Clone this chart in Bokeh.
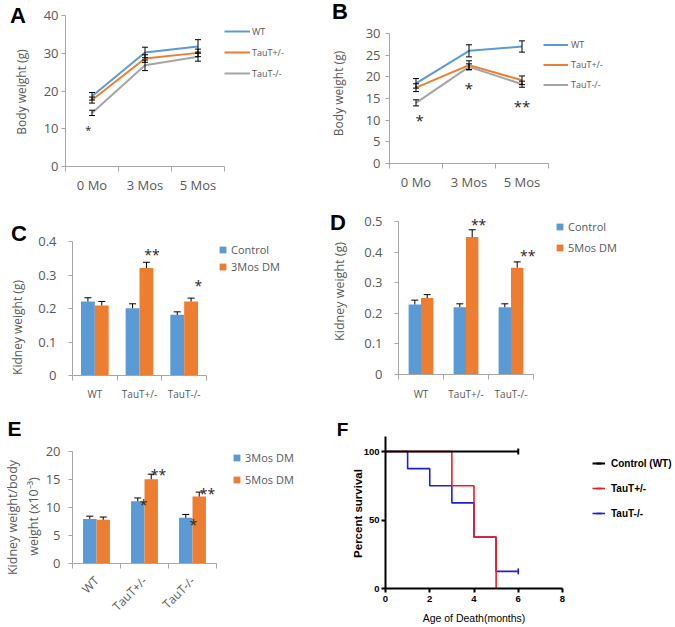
import math
from bokeh.plotting import figure
from bokeh.layouts import column, row
from bokeh.models import (Range1d, FixedTicker, Legend, LegendItem, Label,
                          Whisker, TeeHead, ColumnDataSource)
from bokeh.core.properties import value
from bokeh.embed import file_html
from bokeh.resources import INLINE

# ---------------- data ----------------
months = ["0 Mo", "3 Mos", "5 Mos"]
genotypes = ["WT", "TauT+/-", "TauT-/-"]

# A: body weight (g)
a_wt = [18.6, 30.2, 31.8]
a_wt_err = [1.0, 1.4, 1.8]
a_het = [17.6, 28.6, 30.1]
a_het_err = [0.8, 1.0, 1.0]
a_ko = [14.2, 26.8, 29.1]
a_ko_err = [0.7, 1.4, 1.2]
a_star_cat = [0]
a_star_shift = [-0.07]
a_star_y = [10.3]
a_star_text = ["*"]

# B: body weight (g)
b_wt = [18.5, 26.0, 27.0]
b_wt_err = [1.1, 1.4, 1.3]
b_het = [17.5, 22.7, 19.2]
b_het_err = [0.9, 1.0, 1.0]
b_ko = [14.0, 22.3, 18.3]
b_ko_err = [0.7, 0.7, 0.7]
b_star_cat = [0, 1, 2]
b_star_shift = [0.07, 0.0, 0.0]
b_star_y = [10.4, 18.0, 13.8]
b_star_text = ["*", "*", "**"]

# C: kidney weight (g), 3 months
c_control = [0.221, 0.201, 0.181]
c_control_err = [0.011, 0.013, 0.009]
c_dm = [0.209, 0.321, 0.221]
c_dm_err = [0.012, 0.017, 0.010]
c_star_cat = [1, 2]
c_star_shift = [0.28, 0.32]
c_star_y = [0.367, 0.275]
c_star_text = ["**", "*"]

# D: kidney weight (g), 5 months
d_control = [0.229, 0.220, 0.220]
d_control_err = [0.014, 0.011, 0.011]
d_dm = [0.250, 0.449, 0.349]
d_dm_err = [0.011, 0.024, 0.019]
d_star_cat = [1, 2]
d_star_shift = [0.28, 0.37]
d_star_y = [0.497, 0.395]
d_star_text = ["**", "**"]

# E: kidney weight / body weight (x10^-3)
e_dm3 = [7.95, 11.1, 8.15]
e_dm3_err = [0.5, 0.6, 0.6]
e_dm5 = [7.8, 15.05, 11.95]
e_dm5_err = [0.5, 0.9, 0.8]
e_star_cat = [1, 1, 2, 2]
e_star_shift = [-0.02, 0.29, 0.02, 0.31]
e_star_y = [10.9, 16.25, 7.3, 12.9]
e_star_text = ["*", "**", "*", "**"]

# F: survival (step curves)
f_ctrl_t = [0, 6]
f_ctrl_s = [100, 100]
f_het_t = [0, 3, 4, 5]
f_het_s = [100, 75, 37.5, 0]
f_ko_t = [0, 1, 2, 3, 4, 5, 6]
f_ko_s = [100, 87.5, 75, 62.5, 37.5, 12.5, 12.5]
f_ctrl_cens_t = [6]
f_ctrl_cens_s = [100]
f_ko_cens_t = [6]
f_ko_cens_s = [12.5]

# ---------------- style ----------------
EX_FONT = "Open Sans"
GP_FONT = "Liberation Sans"
TXT = "#595959"
AXC = "#A6A6A6"
BLUE = "#5B9BD5"
ORANGE = "#ED7D31"
GRAY = "#A5A5A5"
STAR = "#262626"


def lin(p0, v0, p1, v1, q):
    return v0 + (q - p0) * (v1 - v0) / (p1 - p0)


class Panel:
    def __init__(self, box, xcal, ycal):
        bx, by, bw, bh = box
        self.box = box
        xr = (lin(*xcal, bx), lin(*xcal, bx + bw))
        yr = (lin(*ycal, by + bh), lin(*ycal, by))
        p = figure(width=bw, height=bh, x_range=Range1d(*xr), y_range=Range1d(*yr),
                   output_backend="svg", toolbar_location=None, title=None,
                   min_border_left=0, min_border_right=0,
                   min_border_top=0, min_border_bottom=0)
        p.xgrid.visible = False
        p.ygrid.visible = False
        p.outline_line_color = None
        self.p = p

    def scr(self, px, py):
        bx, by, bw, bh = self.box
        return px - bx, by + bh - py

    def label(self, txt, px, py, size, font=EX_FONT, style="normal", color=TXT, angle=0.0):
        sx, sy = self.scr(px, py)
        self.p.add_layout(Label(x=sx, y=sy, x_units="screen", y_units="screen",
                                text=txt, text_font=font, text_font_style=style,
                                text_font_size=size, text_align="center",
                                text_baseline="middle", text_color=color, angle=angle))

    def letter(self, txt, px, py, size="22px"):
        self.label(txt, px, py, size, font=GP_FONT, style="bold", color="black")

    def legend(self, items, x1, y1, glyph_w, row_h, spacing, standoff,
               font, size, color, style="normal"):
        n = len(items)
        h = n * row_h + (n - 1) * spacing
        sx, sy = self.scr(x1, y1 + h)
        leg = Legend(items=items, location=(sx, sy),
                     glyph_width=glyph_w, glyph_height=row_h, label_height=row_h,
                     spacing=spacing, label_standoff=standoff, padding=0, margin=0,
                     border_line_color=None, background_fill_alpha=0,
                     label_text_font=font, label_text_font_size=size,
                     label_text_color=color, label_text_font_style=style)
        self.p.add_layout(leg)


def style_excel(p, cats, yticks, ybounds, xfs, yfs, xstand, ystand,
                zero_label=False, orient=None):
    xa = p.xaxis[0]
    ya = p.yaxis[0]
    n = len(cats)
    xa.fixed_location = ybounds[0]
    xa.bounds = (-0.5, n - 0.5)
    xa.ticker = FixedTicker(ticks=list(range(n)),
                            minor_ticks=[i - 0.5 for i in range(n + 1)])
    xa.major_label_overrides = {i: c for i, c in enumerate(cats)}
    xa.major_tick_in = 0
    xa.major_tick_out = 0
    xa.minor_tick_in = 0
    xa.minor_tick_out = 5
    xa.major_label_standoff = xstand
    xa.major_label_text_font_size = xfs
    if orient is not None:
        xa.major_label_orientation = orient
    ya.fixed_location = -0.5
    ya.bounds = ybounds
    ya.ticker = FixedTicker(ticks=yticks, minor_ticks=[])
    ya.major_tick_in = 0
    ya.major_tick_out = 4
    ya.minor_tick_in = 0
    ya.minor_tick_out = 0
    ya.major_label_standoff = ystand
    ya.major_label_text_font_size = yfs
    if zero_label:
        ya.major_label_overrides = {0: "0"}
    for ax in (xa, ya):
        ax.axis_line_color = AXC
        ax.major_tick_line_color = AXC
        ax.minor_tick_line_color = AXC
        ax.major_label_text_color = TXT
        ax.major_label_text_font = EX_FONT


def add_stars(p, cats, shifts, ys, texts, size, yoff=2):
    src = ColumnDataSource(dict(x=[c + s for c, s in zip(cats, shifts)], y=ys, t=texts))
    p.text(x="x", y="y", text="t", source=src, text_font=value(EX_FONT),
           text_font_size=value(size), text_align="center", text_baseline="middle",
           text_color=STAR, y_offset=yoff, level="overlay")


def line_panel(box, xcal, ycal, ybounds, yticks, series, errs, names, colors, stars, leg,
               ystand):
    pan = Panel(box, xcal, ycal)
    p = pan.p
    idx = list(range(len(months)))
    items = []
    for ys, nm, col in zip(series, names, colors):
        r = p.line(x=idx, y=ys, line_color=col, line_width=2)
        items.append(LegendItem(label=nm, renderers=[r]))
    for ys, es in zip(series, errs):
        src = ColumnDataSource(dict(x=idx, up=[y + e for y, e in zip(ys, es)],
                                    lo=[y - e for y, e in zip(ys, es)]))
        p.add_layout(Whisker(source=src, base="x", upper="up", lower="lo",
                             dimension="height", line_color="black", line_width=1,
                             upper_head=TeeHead(size=6, line_color="black", line_width=1),
                             lower_head=TeeHead(size=6, line_color="black", line_width=1),
                             level="overlay"))
    style_excel(p, months, yticks, ybounds, "13px", "13px", 4, ystand)
    add_stars(p, *stars)
    pan.legend(items, *leg, font=EX_FONT, size="9px", color=TXT)
    return pan


def bar_panel(box, xcal, ycal, ybounds, yticks, s1, e1, s2, e2, names, w, stars, leg,
              xfs, yfs, xstand, ystand, orient=None, zero=True):
    pan = Panel(box, xcal, ycal)
    p = pan.p
    idx = list(range(len(genotypes)))
    items = []
    for k, (ys, es, nm, col) in enumerate(zip((s1, s2), (e1, e2), names, (BLUE, ORANGE))):
        xs = [i + (k - 0.5) * w for i in idx]
        src = ColumnDataSource(dict(x=xs, top=ys, up=[y + e for y, e in zip(ys, es)]))
        p.vbar(x="x", top="top", bottom=0, width=w, source=src, fill_color=col,
               line_color=None)
        p.add_layout(Whisker(source=src, base="x", upper="up", lower="top",
                             dimension="height", line_color="black", line_width=1,
                             upper_head=TeeHead(size=7, line_color="black", line_width=1),
                             lower_head=None, level="overlay"))
        # zero-size square markers on the bars: only used as the legend key
        key = p.scatter(x="x", y="top", source=src, marker="square", size=0,
                        fill_color=col, line_color=None)
        items.append(LegendItem(label=nm, renderers=[key]))
    style_excel(p, genotypes, yticks, ybounds, xfs, yfs, xstand, ystand,
                zero_label=zero, orient=orient)
    add_stars(p, *stars)
    pan.legend(items, *leg, font=EX_FONT, size="11px", color=TXT)
    return pan


# ---------------- panels (page pixel calibration) ----------------
A = line_panel((0, 0, 330, 200), (65, -0.5, 224, 2.5), (166, 0, 15, 40), (0, 40),
               [0, 10, 20, 30, 40],
               [a_wt, a_het, a_ko], [a_wt_err, a_het_err, a_ko_err],
               ["WT", "TauT+/-", "TauT-/-"], [BLUE, ORANGE, GRAY],
               (a_star_cat, a_star_shift, a_star_y, a_star_text, "11px"),
               (224, 24, 26, 14, 7, 2), 3)
A.label("Body weight (g)", 21, 91.5, "12px", angle=math.pi / 2)
A.letter("A", 17.5, 15)

B = line_panel((330, 0, 345, 200), (389, -0.5, 548, 2.5), (163, 0, 33, 30), (0, 30),
               [0, 5, 10, 15, 20, 25, 30],
               [b_wt, b_het, b_ko], [b_wt_err, b_het_err, b_ko_err],
               ["WT", "TauT+/-", "TauT-/-"], [BLUE, ORANGE, GRAY],
               (b_star_cat, b_star_shift, b_star_y, b_star_text, "15px"),
               (543, 37.5, 25, 13, 7, 3), 5)
B.label("Body weight (g)", 338, 93, "12px", angle=math.pi / 2)
B.letter("B", 339.5, 11)

C = bar_panel((0, 200, 330, 205), (72, -0.5, 206, 2.5), (375, 0, 241, 0.4), (0, 0.4),
              [0, 0.1, 0.2, 0.3, 0.4],
              c_control, c_control_err, c_dm, c_dm_err, ["Control", "3Mos DM"], 0.31,
              (c_star_cat, c_star_shift, c_star_y, c_star_text, "14px"),
              (214, 240.5, 17, 17, 0, -1), "10px", "13px", 6, 12)
C.label("Kidney weight (g)", 17, 327, "12px", angle=math.pi / 2)
C.letter("C", 18.5, 232.5)

D = bar_panel((330, 200, 345, 205), (398, -0.5, 533, 2.5), (374, 0, 221, 0.5), (0, 0.5),
              [0, 0.1, 0.2, 0.3, 0.4, 0.5],
              d_control, d_control_err, d_dm, d_dm_err, ["Control", "5Mos DM"], 0.275,
              (d_star_cat, d_star_shift, d_star_y, d_star_text, "14px"),
              (551, 217.5, 17, 17, 4, -1), "10px", "13px", 7, 12)
D.label("Kidney weight (g)", 339, 291, "12.5px", angle=math.pi / 2)
D.letter("D", 337.5, 222)

E = bar_panel((0, 405, 330, 222), (72, -0.5, 216, 2.5), (563, 0, 451, 20), (0, 20),
              [0, 5, 10, 15, 20],
              e_dm3, e_dm3_err, e_dm5, e_dm5_err, ["3Mos DM", "5Mos DM"], 0.28,
              (e_star_cat, e_star_shift, e_star_y, e_star_text, "14px"),
              (228, 448.5, 17, 17, 5, -2), "12px", "13px", 10, 8,
              orient=math.pi / 4, zero=False)
E.label("Kidney weight/body", 12, 517, "12.5px", angle=math.pi / 2)
E.label("weight (x10\u207b\u00b3)", 32.5, 516, "12.5px", angle=math.pi / 2)
E.letter("E", 14, 428, size="21px")

# F: survival
F = Panel((330, 405, 345, 222), (385, 0, 562, 8), (588, 0, 451, 100))
pF = F.p
BLK, RED, BLU = "black", "#EE1C25", "#2020D8"
r_ko = pF.step(x=f_ko_t, y=f_ko_s, mode="after", line_color=BLU, line_width=1.6)
r_het = pF.step(x=f_het_t, y=f_het_s, mode="after", line_color=RED, line_width=1.6)
r_ctrl = pF.step(x=f_ctrl_t, y=f_ctrl_s, mode="after", line_color=BLK, line_width=2)
c_ko = pF.scatter(x=f_ko_cens_t, y=f_ko_cens_s, marker="dash", angle=math.pi / 2,
                  size=6, line_color=BLU, line_width=1.6)
# no censored TauT+/- animals: zero-size marks only give the legend key its tick
c_het = pF.scatter(x=f_het_t, y=f_het_s, marker="dash", angle=math.pi / 2, size=0,
                   line_color=RED, line_width=1.6)
c_ctrl = pF.scatter(x=f_ctrl_cens_t, y=f_ctrl_cens_s, marker="dash", angle=math.pi / 2,
                    size=6, line_color=BLK, line_width=2)
fx, fy = pF.xaxis[0], pF.yaxis[0]
fx.fixed_location = 0
fx.bounds = (0, 8)
fy.fixed_location = 0
fy.bounds = (0, 111)
for ax in (fx, fy):
    ax.axis_line_color = "black"
    ax.axis_line_width = 2
    ax.major_tick_line_color = "black"
    ax.major_tick_line_width = 2
    ax.major_tick_in = 0
    ax.major_tick_out = 4
    ax.minor_tick_out = 0
    ax.minor_tick_in = 0
    ax.major_label_text_font = GP_FONT
    ax.major_label_text_font_style = "bold"
    ax.major_label_text_font_size = "9.5px"
    ax.major_label_text_color = "black"
fx.ticker = FixedTicker(ticks=[0, 2, 4, 6, 8], minor_ticks=[])
fy.ticker = FixedTicker(ticks=[0, 50, 100], minor_ticks=[])
fx.major_label_standoff = 3
fy.major_label_standoff = 2
F.label("Percent survival", 357.5, 513, "11.5px", font=GP_FONT, style="bold",
        color="black", angle=math.pi / 2)
F.label("Age of Death(months)", 473.5, 617.5, "10.5px", font=GP_FONT, color="black")
f_items = [LegendItem(label="Control (WT)", renderers=[r_ctrl, c_ctrl]),
           LegendItem(label="TauT+/-", renderers=[r_het, c_het]),
           LegendItem(label="TauT-/-", renderers=[r_ko, c_ko])]
F.legend(f_items, 592, 455, 13, 16, 9, 6, font=GP_FONT, size="10px",
         color="black", style="bold")
F.letter("F", 342, 428.5, size="19px")

layout = column(row(A.p, B.p), row(C.p, D.p), row(E.p, F.p))
open("out.html", "w").write(file_html(layout, INLINE))
